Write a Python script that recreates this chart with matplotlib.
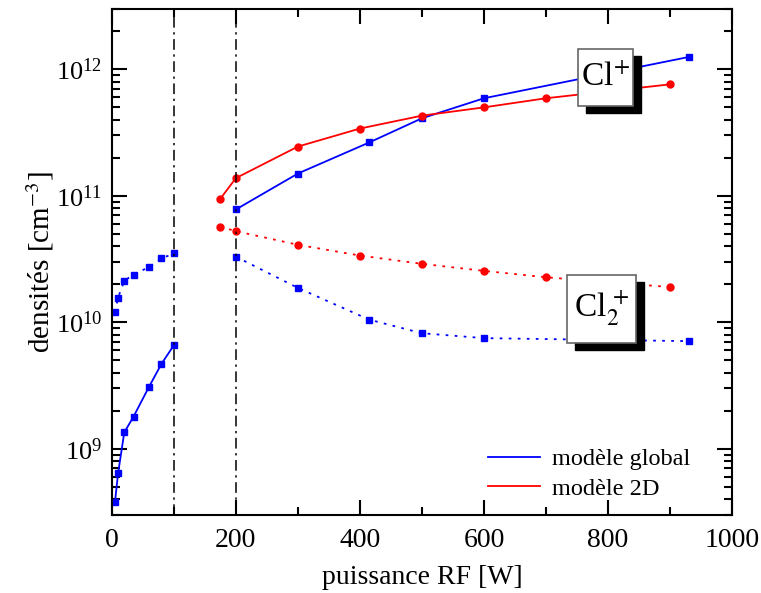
import matplotlib
matplotlib.use("Agg")
import matplotlib.pyplot as plt
from matplotlib.patches import Rectangle
from matplotlib.ticker import LogLocator, MultipleLocator

plt.rcParams["font.family"] = ["Liberation Serif", "DejaVu Serif"]
plt.rcParams["mathtext.fontset"] = "stix"

# global model, low power (Cl+ solid, Cl2+ dotted)
p_low = [5, 10, 20, 35, 60, 80, 100]
clp_glob_low = [3.8e8, 6.4e8, 1.35e9, 1.8e9, 3.1e9, 4.7e9, 6.6e9]
cl2p_glob_low = [1.2e10, 1.57e10, 2.13e10, 2.38e10, 2.74e10, 3.2e10, 3.5e10]

# global model, high power
p_glob = [200, 300, 415, 500, 600, 930]
clp_glob = [7.8e10, 1.5e11, 2.64e11, 4.1e11, 5.9e11, 1.25e12]
cl2p_glob = [3.3e10, 1.87e10, 1.05e10, 8.2e9, 7.5e9, 7.1e9]

# 2D model
p_2d = [175, 200, 300, 400, 500, 600, 700, 900]
clp_2d = [9.5e10, 1.38e11, 2.45e11, 3.4e11, 4.3e11, 5.0e11, 5.9e11, 7.6e11]
cl2p_2d = [5.7e10, 5.25e10, 4.1e10, 3.37e10, 2.9e10, 2.55e10, 2.27e10, 1.9e10]

fig = plt.figure(figsize=(7.61, 5.93), dpi=100)
ax = fig.add_axes([0.147, 0.1315, 0.815, 0.8535])

dot = (0, (1.5, 3.5))
kb = dict(color="#0000ff", marker="s", ms=4.5, lw=1.3, clip_on=False)
kr = dict(color="#ff0000", marker="o", ms=5, lw=1.3, clip_on=False)

ax.plot(p_low, clp_glob_low, ls="-", **kb)
ax.plot(p_low, cl2p_glob_low, ls=dot, **kb)
ax.plot(p_glob, clp_glob, ls="-", **kb, label="modèle global")
ax.plot(p_glob, cl2p_glob, ls=dot, **kb)
ax.plot(p_2d, clp_2d, ls="-", **kr, label="modèle 2D")
ax.plot(p_2d, cl2p_2d, ls=dot, **kr)

for xv in (100, 200):
    ax.axvline(xv, color="black", lw=1.1, ls=(0, (7, 3, 1.5, 3)))

ax.set_yscale("log")
ax.set_xlim(0, 1000)
ax.set_ylim(3e8, 3e12)
ax.xaxis.set_major_locator(MultipleLocator(200))
ax.xaxis.set_minor_locator(MultipleLocator(100))
ax.yaxis.set_major_locator(LogLocator(base=10))
ax.yaxis.set_minor_locator(LogLocator(base=10, subs=range(2, 10)))
ax.tick_params(which="both", direction="in", top=True, right=True, width=1.5)
ax.tick_params(which="major", length=11)
ax.tick_params(which="minor", length=6)
ax.tick_params(axis="x", pad=9, labelsize=20)
ax.tick_params(axis="y", pad=7, labelsize=19)
for s in ax.spines.values():
    s.set_linewidth(1.5)

ax.set_xlabel("puissance RF [W]", fontsize=20, labelpad=9)
ax.set_ylabel("densités [cm$^{-3}$]", fontsize=21)
ax.yaxis.set_label_coords(-0.09, 0.5)

leg = ax.legend(loc="lower right", frameon=False, fontsize=17.5, handlelength=2.15,
                handletextpad=0.5, labelspacing=0.3, bbox_to_anchor=(0.968, -0.013))
for h in leg.legend_handles:
    h.set_marker("")

W, H = 761, 593
def label_box(x0, y0, x1, y1, txt):
    sh = Rectangle(((x0 + 8) / W, 1 - (y1 + 7) / H), (x1 - x0) / W, (y1 - y0) / H,
                   transform=fig.transFigure, facecolor="black", edgecolor="black", zorder=5)
    bx = Rectangle((x0 / W, 1 - y1 / H), (x1 - x0) / W, (y1 - y0) / H,
                   transform=fig.transFigure, facecolor="white", edgecolor="#666666",
                   lw=1.2, zorder=6)
    fig.add_artist(sh)
    fig.add_artist(bx)
    fig.text((x0 + x1) / 2 / W, 1 - (y0 + y1) / 2 / H, txt, ha="center", va="center",
             fontsize=24, zorder=7)

label_box(578, 49, 633, 106, "Cl$^{+}$")
label_box(567, 275, 636, 343, "Cl$_{2}^{\\,+}$")

fig.savefig("out.png", dpi=100)
